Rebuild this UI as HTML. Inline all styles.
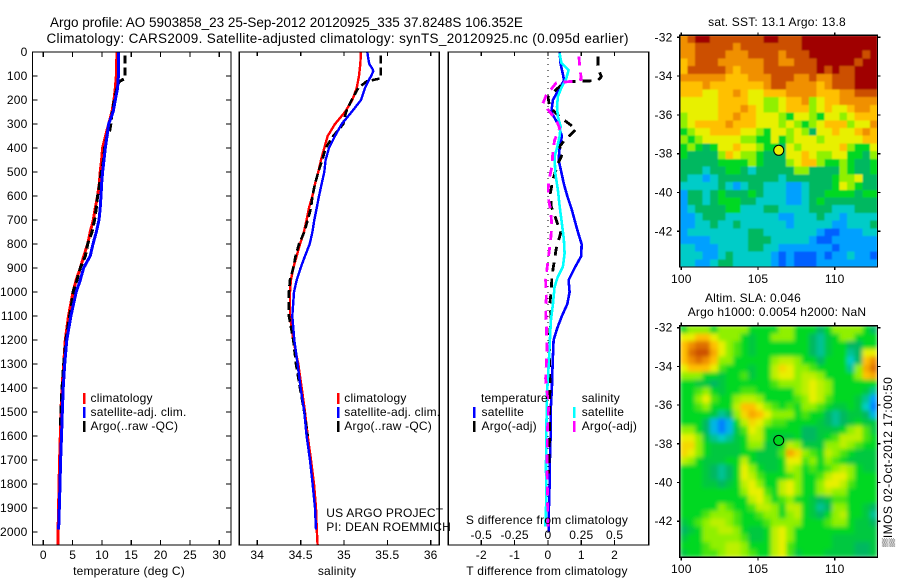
<!DOCTYPE html>
<html>
<head>
<meta charset="utf-8">
<title>Argo profile chart</title>
<style>
html,body{margin:0;padding:0;background:#fff;width:900px;height:580px;overflow:hidden}
svg{display:block}
text{font-family:"Liberation Sans",sans-serif;font-size:12px;fill:#000;letter-spacing:.2px}
.title{font-size:13.5px;letter-spacing:0}
.axis{fill:none;stroke:#000;stroke-width:1.2;shape-rendering:crispEdges}
.m{text-anchor:middle}
</style>
</head>
<body>
<svg id="chart" width="900" height="580" viewBox="0 0 900 580" xmlns="http://www.w3.org/2000/svg">
  <defs>
    <filter id="soften-sst" x="0" y="0" width="100%" height="100%"><feGaussianBlur stdDeviation="0.7" edgeMode="duplicate"/></filter>
    <filter id="soften-sla" x="0" y="0" width="100%" height="100%"><feGaussianBlur stdDeviation="2" edgeMode="duplicate"/></filter>
  </defs>
  <text class="title" x="50" y="27">Argo profile: AO 5903858_23 25-Sep-2012 20120925_335 37.8248S 106.352E</text>
  <text class="title" x="46.5" y="43" textLength="582" lengthAdjust="spacing">Climatology: CARS2009. Satellite-adjusted climatology: synTS_20120925.nc (0.095d earlier)</text>

  <g id="series-layer"></g>
  <g id="map-layer"></g>
  <g id="axis-layer"></g>

  <text class="m" x="129" y="575">temperature (deg C)</text>
  <text class="m" x="337" y="575">salinity</text>
  <text class="m" x="547" y="575" style="letter-spacing:.27px">T difference from climatology</text>
  <text class="m" x="547" y="524" style="letter-spacing:.27px">S difference from climatology</text>

  <g>
    <rect x="83" y="393" width="2.5" height="11" fill="#f00"/>
    <rect x="83" y="407" width="2.5" height="11" fill="#00f"/>
    <rect x="83" y="421" width="2.5" height="11" fill="#000"/>
    <text x="90.5" y="402">climatology</text>
    <text x="90.5" y="416">satellite-adj. clim.</text>
    <text x="90.5" y="430">Argo(..raw -QC)</text>
  </g>
  <g>
    <rect x="337" y="393" width="2.5" height="11" fill="#f00"/>
    <rect x="337" y="407" width="2.5" height="11" fill="#00f"/>
    <rect x="337" y="421" width="2.5" height="11" fill="#000"/>
    <text x="344.3" y="402">climatology</text>
    <text x="344.3" y="416">satellite-adj. clim.</text>
    <text x="344.3" y="430">Argo(..raw -QC)</text>
  </g>
  <g>
    <rect x="473" y="407" width="2.5" height="11" fill="#00f"/>
    <rect x="473" y="421" width="2.5" height="11" fill="#000"/>
    <rect x="573" y="407" width="2.5" height="11" fill="#0ff"/>
    <rect x="573" y="421" width="2.5" height="11" fill="#f0f"/>
    <text x="481" y="402">temperature</text>
    <text x="481.5" y="416">satellite</text>
    <text x="481.5" y="430">Argo(-adj)</text>
    <text x="581.7" y="402">salinity</text>
    <text x="581.7" y="416">satellite</text>
    <text x="581.7" y="430">Argo(-adj)</text>
  </g>

  <text x="326.3" y="517">US ARGO PROJECT</text>
  <text x="326.3" y="531">PI: DEAN ROEMMICH</text>

  <text class="m" x="777" y="26">sat. SST: 13.1 Argo: 13.8</text>
  <text class="m" x="753" y="302">Altim. SLA: 0.046</text>
  <text class="m" x="777" y="316">Argo h1000: 0.0054 h2000: NaN</text>
  <text transform="translate(892,547) rotate(-90)" style="letter-spacing:.42px">▒IMOS 02-Oct-2012 17:00:50</text>
</svg>
<script>
/* ---------- profile data ---------- */
const climDepthT = [0,50,100,150,200,250,300,350,400,450,500,550,600,650,700,750,800,850,900,950,1000,1100,1200,1300,1400,1500,1600,1700,1800,1900,2000,2054];
const climTemp = [12.56,12.5,12.44,12.27,12.05,11.7,11.14,10.6,10.1,9.94,9.7,9.55,9.26,8.86,8.52,8.0,7.56,6.9,6.3,5.6,5.06,4.3,3.75,3.47,3.18,3.0,2.9,2.78,2.67,2.6,2.5,2.5];
const satDepthT = [0,50,100,150,200,250,300,350,400,450,500,550,600,650,700,750,800,850,900,950,1000,1100,1200,1300,1400,1500,1600,1700,1800,1900,1990];
const satTemp = [12.85,12.85,12.8,12.67,12.27,11.9,11.14,10.85,10.57,10.34,10.1,9.94,9.83,9.7,9.5,9.03,8.47,8.0,6.87,6.3,5.6,4.7,4.0,3.64,3.4,3.24,3.1,2.95,2.84,2.73,2.6];
const argoDepthT = [15,110,125,150,200,250,300,330,350,400,450,500,550,600,650,700,750,800,850,900,950,1000,1050,1100,1200,1300,1400,1500,1560];
const argoTemp = [13.9,13.9,12.85,12.56,12.1,11.75,11.5,11.3,10.85,10.45,10.28,9.88,9.6,9.26,9.03,8.75,8.3,7.56,7.16,6.3,5.75,5.06,4.83,4.48,3.86,3.47,3.18,3.0,2.9];

const climDepthS = [0,50,100,150,200,250,300,350,400,450,500,550,600,650,700,750,800,850,900,950,1000,1100,1200,1300,1400,1500,1600,1700,1800,1900,2000,2054];
const climSal = [35.196,35.188,35.173,35.146,35.096,35.012,34.896,34.812,34.773,34.735,34.704,34.665,34.635,34.596,34.569,34.538,34.492,34.454,34.415,34.388,34.377,34.377,34.415,34.473,34.512,34.55,34.581,34.619,34.654,34.677,34.688,34.696];
const satDepthS = [0,30,50,70,80,100,120,150,200,250,300,350,400,450,500,550,600,650,700,750,800,850,900,950,1000,1100,1200,1300,1400,1500,1600,1700,1800,1900,1990];
const satSal = [35.269,35.281,35.292,35.327,35.338,35.312,35.281,35.242,35.196,35.088,34.973,34.896,34.827,34.788,34.773,34.742,34.712,34.685,34.658,34.635,34.604,34.55,34.5,34.454,34.423,34.404,34.427,34.465,34.5,34.542,34.569,34.608,34.638,34.665,34.677];
const argoDepthS = [15,110,122,150,200,250,300,350,400,450,500,550,600,650,700,750,800,850,900,950,1000,1100,1200,1300,1400,1500,1600];
const argoSal = [35.423,35.423,35.262,35.165,35.088,35.023,34.992,34.877,34.788,34.75,34.704,34.665,34.635,34.619,34.581,34.542,34.481,34.442,34.415,34.377,34.365,34.365,34.415,34.446,34.492,34.542,34.581];

const dTDepthSat = [0,50,100,120,150,200,250,300,350,400,450,500,550,600,650,700,750,800,850,900,950,1000,1050,1100,1150,1200,1300,1400,1500,1600,1700,1800,1900,2000];
const dTSat = [.35,.38,.46,.48,.35,.15,.10,.30,.42,.35,.32,.40,.48,.58,.70,.80,.90,1.01,1.0,.80,.62,.65,.58,.42,.28,.17,.14,.12,.08,.08,.06,.05,.03,.02];
const dSDepthSat = [5,45,75,110,150,185,228,270,310,350,395,436,505,575,645,714,783,839,894,936,978,1047,1117,1200,1311,1422,1589,1728,1867,1978];
const dSSat = [.0875,.1,.155,.138,.1,.075,.068,.075,.095,.088,.07,.05,.055,.075,.088,.105,.12,.125,.112,.075,.05,.038,.022,.015,.005,-.0075,-.0125,-.015,-.0125,-.02];
const dTDepthArgo = [19,54,75,103,119,122,124,144,186,228,269,322,367,394,422,464,533,589,644,700,756,818,881,936,992,1047,1117,1172,1394,1589,1756];
const dTArgo = [1.5,1.5,1.53,1.6,1.5,.9,.5,.35,0,.05,.35,.85,.5,.35,.45,.3,.15,.07,.1,.25,.38,.25,.18,.12,.1,.06,.1,.05,.06,.05,.02];
const dSDepthArgo = [19,54,89,114,122,128,158,179,214,249,283,318,367,415,478,540,603,658,728,783,839,894,950,1019,1075,1130,1242,1360,1478,1589,1728,1978];
const dSArgo = [.2325,.2375,.245,.25,.1875,.0625,.02,-.0125,-.0375,.0125,.0625,.0875,.05,.0375,.03,.005,0,.02,.03,.02,.0075,-.005,-.0175,-.0125,-.0175,-.0125,-.0075,-.0175,.005,-.005,-.0075,0];

/* ---------- tick labels ---------- */
const depthTicks = [0,100,200,300,400,500,600,700,800,900,1000,1100,1200,1300,1400,1500,1600,1700,1800,1900,2000];
const tempTicks = [0,5,10,15,20,25,30];
const salTicks = [34,34.5,35,35.5,36];
const dTTicks = [-2,-1,0,1,2];
const dSTicks = [-0.5,-0.25,0,0.25,0.5];
const lonTicks = [100,105,110];
const latTicks = [-32,-34,-36,-38,-40,-42];

/* ---------- map data (colour levels: 0 deep blue ... 10 dark red) ---------- */
const argoPositionLon = 106.352;
const argoPositionLat = -37.8248;
const sstLevels = [
[8,9,10,10,9,9,9,9,9,9,9,10,10,9,9,9,10,10,10,10,10,10,10,10,10,10],
[8,8,9,9,9,9,9,8,9,9,9,9,9,9,9,9,10,10,10,10,10,10,10,10,10,10],
[8,8,9,9,9,9,8,8,8,9,9,9,9,8,9,9,9,10,10,10,10,10,10,10,9,10],
[7,8,9,9,9,8,8,8,8,8,8,9,9,8,8,9,9,9,10,10,10,10,10,9,10,10],
[7,9,9,9,9,9,8,7,8,8,8,9,9,9,9,9,9,9,10,9,10,9,9,10,10,10],
[8,8,8,8,8,8,7,7,7,8,8,8,9,9,9,8,8,9,8,8,9,9,9,10,10,10],
[7,7,7,8,7,7,7,7,7,7,7,8,9,9,8,8,8,8,7,8,9,9,9,10,10,10],
[7,7,7,6,6,7,7,8,7,6,6,7,7,7,8,8,8,8,7,7,7,8,8,9,9,9],
[6,6,6,6,6,7,7,7,7,6,6,5,5,6,7,7,8,5,6,7,7,8,8,8,8,8],
[6,6,6,6,6,7,7,7,8,7,6,5,5,6,7,7,7,5,6,7,6,6,7,8,8,7],
[5,6,6,6,6,7,7,8,7,7,6,6,6,5,4,6,6,5,4,6,6,5,6,7,7,7],
[5,6,7,7,7,7,8,7,7,7,6,6,6,5,6,5,4,5,6,7,7,7,5,6,6,8],
[4,5,6,6,7,7,7,7,6,6,5,4,6,6,5,6,5,3,6,6,7,6,6,7,8,7],
[5,4,5,6,6,6,6,6,5,5,4,4,6,4,5,6,6,6,5,6,6,6,6,6,7,7],
[4,5,4,3,4,6,6,7,6,6,5,4,4,3,6,5,6,6,6,6,6,7,5,4,4,6],
[4,3,3,3,3,5,7,6,5,5,4,3,3,3,6,6,7,6,5,5,6,6,4,4,3,5],
[3,3,3,3,3,4,4,4,4,5,4,3,3,3,5,6,7,7,5,4,4,5,4,3,3,4],
[3,3,3,2,3,3,4,4,3,2,3,3,3,3,3,5,5,3,3,3,3,5,4,3,3,4],
[3,2,2,1,2,3,3,3,3,3,3,3,3,2,3,3,3,3,3,3,4,5,5,6,3,3],
[2,2,2,2,2,3,2,1,2,3,3,2,2,2,1,1,2,3,3,3,4,6,5,4,3,3],
[1,3,3,2,3,4,3,3,3,4,3,2,2,2,1,1,2,3,3,4,4,4,4,3,4,4],
[1,3,3,2,3,4,4,4,3,3,2,2,2,2,1,1,2,3,4,3,3,3,3,3,3,3],
[1,2,3,3,3,3,4,4,2,2,2,3,3,2,2,2,2,3,3,3,2,2,2,3,3,3],
[1,1,2,3,3,3,2,2,2,2,2,2,2,1,1,2,2,2,3,2,2,1,2,2,2,2],
[1,1,2,2,3,2,2,3,2,2,2,2,2,2,1,2,2,2,2,2,1,1,2,2,2,3],
[1,2,2,2,2,2,2,2,2,3,3,2,2,2,2,2,2,2,1,0,0,1,1,1,2,2],
[1,1,1,1,2,2,2,2,2,3,3,3,2,2,2,2,2,1,0,0,1,1,1,1,1,1],
[2,2,1,1,1,2,2,2,2,3,3,2,2,1,1,1,1,1,1,1,0,1,1,1,1,1],
[2,2,2,1,1,2,3,2,2,2,2,2,1,0,1,0,0,0,1,0,1,1,2,1,1,0],
[2,2,1,1,2,3,3,2,2,2,2,2,1,0,1,0,0,0,1,1,1,1,1,1,1,1]
];
const slaLevels = [
[4,5,5,5,4,5,5,5,5,4,4,4,4,5,5,4,4,4,3,4,5,5,5,5,4,3],
[6,6,7,7,6,5,5,5,4,3.5,4,4,5,5,5,4,4,3,2.5,3.5,4,5,5,4,4,4],
[7,8,8.5,8.5,7,6,5,4.5,4,3.5,4,4,4,4,4,4,4,3,2.5,3.5,4,4,3,3,4,4],
[7,8.5,9,9,7.5,6,5,4.5,4,3.5,4,4,4,4,4,4,4,3,2.5,3.5,4,4,2.5,3,6,6],
[7,8,8.5,8,7,5,5,4,4,4,4,4,5,5.5,5.5,5,4,4,3,4,4,4,2,3,7,8],
[6,7,7,7,6,4.5,4,4,4,3.5,4,4,5.5,6.5,6,5,5,4.5,4,4,4,4,2.5,5,7.5,8.5],
[5,5,5,4,4,3.5,4,4,4.5,3.5,4,4,5.5,6,6,5,5.5,5.5,5,4,4,4,4,5,7,7.5],
[4,4,3.5,3.5,3,3.5,4,4,4,4,4,4,4.5,5,5,5,5.5,6,5.5,5,4,4,4,4,4,4],
[4,4,4.5,5,4,3.5,4,4,4.5,4.5,4,4,4,4,4,5,5.5,6,5.5,5,4,4,4,4,3.5,2.5],
[4,4,5,6,4.5,4,4,5,5.5,5.5,5,4,4,4,4,4.5,5,6,5.5,4.5,4,4,4,3.5,2.5,1],
[4,4,4.5,5,4,4,4,5.5,7,7,6,5,4.5,4,4.5,4,5,5,4.5,4,3.5,3.5,4,3.5,2,0.5],
[4,4,4,4,3.5,2.5,3,5,6.5,7.5,7,6,5,5,5,4,4.5,4,4,3,2.5,3,3.5,3.5,3,1.5],
[4,4,4,3,1.5,0.5,1.5,4,5.5,6.5,6,5,4.5,4.5,4,4,4,4,3.5,3,2.5,3,3.5,4,3.5,3.5],
[5,5,4,3,1.5,0.5,1.5,3.5,4.5,6,5.5,4,4,4,4,4,3,3,3.5,3.5,3.5,4,5,5.5,4.5,3.5],
[6,6,5,3.5,2.5,2,2.5,3.5,4,5.5,5.5,4,3.5,3.5,3.5,4,3,3,3.5,4,4.5,5.5,5.5,5.5,4.5,4],
[6.5,6.5,5,4,3.5,3.5,3.5,3.5,4,5,5,3.5,3.5,4,5.5,5,3.5,3.5,3.5,5,5,5.5,5,4.5,4,4],
[6.5,6,5,4,3.5,3.5,3.5,3.5,4,4,3.5,3.5,3.5,4.5,7.5,6.5,5,4.5,4,5.5,5,4.5,4,3.5,3.5,3.5],
[5.5,5,4,3.5,3.5,3.5,4,4,5.5,4,3.5,3.5,3.5,4,6,6,4.5,5,4,5,4.5,4,3.5,3.5,3.5,3.5],
[4,4,4,3.5,3,2.5,3,4,6,5,4,3.5,3.5,4,5.5,5,4,4.5,4,4.5,5,5.5,5,4,3.5,3.5],
[4,4,4,3.5,3,2.5,3,4,6,5.5,4.5,4,4,4,4.5,5,4,4,4.5,5.5,6,6,5,4,4,4],
[4,4,4,3.5,3.5,3,3.5,4,5.5,6,5,4,4,5.5,6,5,4,4,5,6,6,5.5,4.5,4,4,4],
[4,4,4,4,4,4,4,4,5,6,6,4.5,4,5.5,6,5,4,4,5,5.5,5,5,4,4,4,4],
[4,4,4,4,4,4,4,4,4,5.5,6,5,4,4.5,5,4,4,3.5,3,3.5,4.5,4.5,4,4,4,4],
[4,4,4,4,4,5,4.5,4,4,4.5,5.5,5.5,5,4,5.5,5.5,4,3.5,2.5,3,5,5,4,4,3.5,3],
[4,4,4,4.5,5,5,5,4.5,4,4,4.5,5,5,4,5,5.5,4,3.5,3,4,5,5.5,4,4,3.5,2.5],
[3.5,4,4.5,5,5.5,5.5,5,4.5,4,4,4,4.5,5,5,5,5,4,4,4,4.5,5,5,4,3.5,3.5,3],
[3,3.5,4,5,5,5.5,5.5,5,4,3.5,3.5,4,5.5,6,5,4,4,4,4,4,4,4,4,3.5,3.5,3.5],
[3.5,4,4,5,5,5,5,5,4.5,3.5,3.5,4,5.5,6,5,4,4,4,4,4,3.5,3.5,3.5,3.5,3.5,3.5],
[4,4,4,4.5,5,5,5.5,5.5,5,4,4,4,5.5,6,4.5,4,4,4,4,4,3.5,3.5,3.5,3,3,3.5],
[3.5,4,4,4.5,4.5,5,5.5,5.5,5,4.5,4,4,5.5,6,4.5,3.5,4,4,4,3.5,3.5,3.5,3.5,3,3,3.5]
];
const levelColors = ['#0060ff','#00a0ff','#00ccc8','#00b860','#00d820','#90f000','#e8f000','#ffc000','#f09000','#cc5000','#a00000'];

/* ---------- helpers ---------- */
const NS = 'http://www.w3.org/2000/svg';
const seriesLayer = document.getElementById('series-layer');
const axisLayer = document.getElementById('axis-layer');
const mapLayer = document.getElementById('map-layer');
function mk(tag, attrs, parent, txt) {
  const e = document.createElementNS(NS, tag);
  for (const k in attrs) e.setAttribute(k, attrs[k]);
  if (txt !== undefined) e.textContent = txt;
  parent.appendChild(e);
  return e;
}
function linear(d0, p0, d1, p1) { return v => p0 + (v - d0) * (p1 - p0) / (d1 - d0); }

const PT = 52, PB = 545;
const yDepth = linear(0, 52, 1000, 292);
const xTemp = linear(0, 43.3, 30, 219.3);
const xSal = linear(34, 257.3, 36, 430.7);
const xDT = linear(-2, 481.3, 2, 614.6);
const xDS = linear(-0.5, 481.3, 0.5, 614.6);

function profile(depths, vals, xf, color, w, dash, name) {
  const pts = depths.map((d, i) => xf(vals[i]).toFixed(1) + ',' + yDepth(d).toFixed(1)).join(' ');
  const attrs = {points: pts, fill: 'none', stroke: color, 'stroke-width': w, 'shape-rendering': 'crispEdges', 'stroke-linejoin': 'miter'};
  if (dash) attrs['stroke-dasharray'] = dash;
  const line = mk('polyline', attrs, seriesLayer);
  
  
}

function frame(x0, x1, y0, y1, name) {
  const r = mk('rect', {x: x0, y: y0, width: x1 - x0, height: y1 - y0, class: 'axis'}, axisLayer);
  
  
}
function tick(x1, y1, x2, y2) {
  const t = mk('line', {x1: x1, y1: y1, x2: x2, y2: y2, class: 'axis'}, axisLayer);
  
  
}
function label(x, y, str, anchor) {
  const t = mk('text', {x: x, y: y, 'text-anchor': anchor}, axisLayer, str);
  
  
}

/* ---------- temperature panel ---------- */
profile(climDepthT, climTemp, xTemp, '#f00', 3, null, 'temperature-climatology-line');
profile(argoDepthT, argoTemp, xTemp, '#000', 3, '8 4', 'temperature-argo-line');
profile(satDepthT, satTemp, xTemp, '#00f', 3, null, 'temperature-satellite-line');
frame(32.5, 231, PT, PB, 'temperature-panel-frame');
tempTicks.forEach(v => {
  const x = xTemp(v);
  tick(x, PT, x, PT + 5);
  tick(x, PB, x, PB - 5);
  label(x, 559, String(v), 'middle');
});
depthTicks.forEach(v => {
  const y = yDepth(v);
  tick(32.5, y, 37.5, y);
  tick(231, y, 226, y);
  label(27.5, y + 4, String(v), 'end');
});

/* ---------- salinity panel ---------- */
profile(climDepthS, climSal, xSal, '#f00', 2.4, null, 'salinity-climatology-line');
profile(argoDepthS, argoSal, xSal, '#000', 2.6, '8 4', 'salinity-argo-line');
profile(satDepthS, satSal, xSal, '#00f', 2.4, null, 'salinity-satellite-line');
frame(239.3, 439.3, PT, PB, 'salinity-panel-frame');
salTicks.forEach(v => {
  const x = xSal(v);
  tick(x, PT, x, PT + 4);
  tick(x, PB, x, PB - 5);
  label(x, 559, String(v), 'middle');
});

/* ---------- difference panel ---------- */
const zeroLine = mk('line', {x1: xDT(0), y1: PT, x2: xDT(0), y2: PB, stroke: '#000', 'stroke-width': 1, 'stroke-dasharray': '1 5', 'shape-rendering': 'crispEdges'}, seriesLayer);


profile(dTDepthSat, dTSat, xDT, '#00f', 2.6, null, 't-difference-satellite-line');
profile(dTDepthArgo, dTArgo, xDT, '#000', 2.8, '9 7', 't-difference-argo-line');
profile(dSDepthSat, dSSat, xDS, '#0ff', 2.6, null, 's-difference-satellite-line');
profile(dSDepthArgo, dSArgo, xDS, '#f0f', 2.8, '9 7', 's-difference-argo-line');
frame(448.3, 648.7, PT, PB, 'difference-panel-frame');
dTTicks.forEach(v => {
  const x = xDT(v);
  tick(x, PT, x, PT + 4);
  tick(x, PB, x, PB - 5);
  label(x, 559, String(v), 'middle');
});
dSTicks.forEach(v => {
  label(xDS(v), 539, String(v), 'middle');
});

/* ---------- maps ---------- */
const mapX = linear(100, 681.3, 110, 834.7);
const lonW = 99.9, lonE = 112.79;
function drawMap(levels, latTopPx, latStepPx, topPx, botPx, name, dotColor, lonLabelY, filterId) {
  const mapY = linear(-32, latTopPx, -42, latTopPx + 10 * latStepPx);
  const latN = -32 + (latTopPx - topPx) / latStepPx;
  const latS = -32 - (botPx - latTopPx) / latStepPx;
  const rows = levels.length, cols = levels[0].length;
  const g = mk('g', {'shape-rendering': 'crispEdges', filter: 'url(#' + filterId + ')'}, mapLayer);
  
  
  levels.forEach((row, r) => {
    row.forEach((v, c) => {
      const lon0 = lonW + c * (lonE - lonW) / cols;
      const lon1 = lonW + (c + 1) * (lonE - lonW) / cols;
      const lat0 = latN + r * (latS - latN) / rows;
      const lat1 = latN + (r + 1) * (latS - latN) / rows;
      const cell = mk('rect', {x: mapX(lon0), y: mapY(lat0), width: mapX(lon1) - mapX(lon0) + (c < cols - 1 ? .5 : 0), height: mapY(lat1) - mapY(lat0) + (r < rows - 1 ? .5 : 0), fill: levelColor(v)}, g);
      
      
    });
  });
  const dot = mk('circle', {cx: mapX(argoPositionLon), cy: mapY(argoPositionLat), r: 5, fill: dotColor, stroke: '#000', 'stroke-width': 1}, mapLayer);
  
  
  frame(mapX(lonW), mapX(lonE), topPx, botPx, name + '-frame');
  lonTicks.forEach(v => {
    const x = mapX(v);
    tick(x, topPx, x, topPx - 3);
    tick(x, botPx, x, botPx + 3);
    label(x, lonLabelY, String(v), 'middle');
  });
  latTicks.forEach(v => {
    const y = mapY(v);
    tick(mapX(lonW), y, mapX(lonW) - 3, y);
    tick(mapX(lonE), y, mapX(lonE) + 3, y);
    label(672.5, y + 4, String(v), 'end');
  });
}
function levelColor(v) {
  const a = Math.max(0, Math.min(levelColors.length - 1, Math.floor(v)));
  const b = Math.min(levelColors.length - 1, a + 1);
  const f = v - a;
  const ca = parseInt(levelColors[a].slice(1), 16), cb = parseInt(levelColors[b].slice(1), 16);
  const mix = s => Math.round(((ca >> s) & 255) * (1 - f) + ((cb >> s) & 255) * f);
  return 'rgb(' + mix(16) + ',' + mix(8) + ',' + mix(0) + ')';
}
drawMap(sstLevels, 37.3, 19.4, 35.3, 267, 'sst-map', '#e8f000', 283, 'soften-sst');
drawMap(slaLevels, 327.7, 19.35, 325.7, 557.3, 'sla-map', '#00d820', 573, 'soften-sla');
</script>
</body>
</html>
